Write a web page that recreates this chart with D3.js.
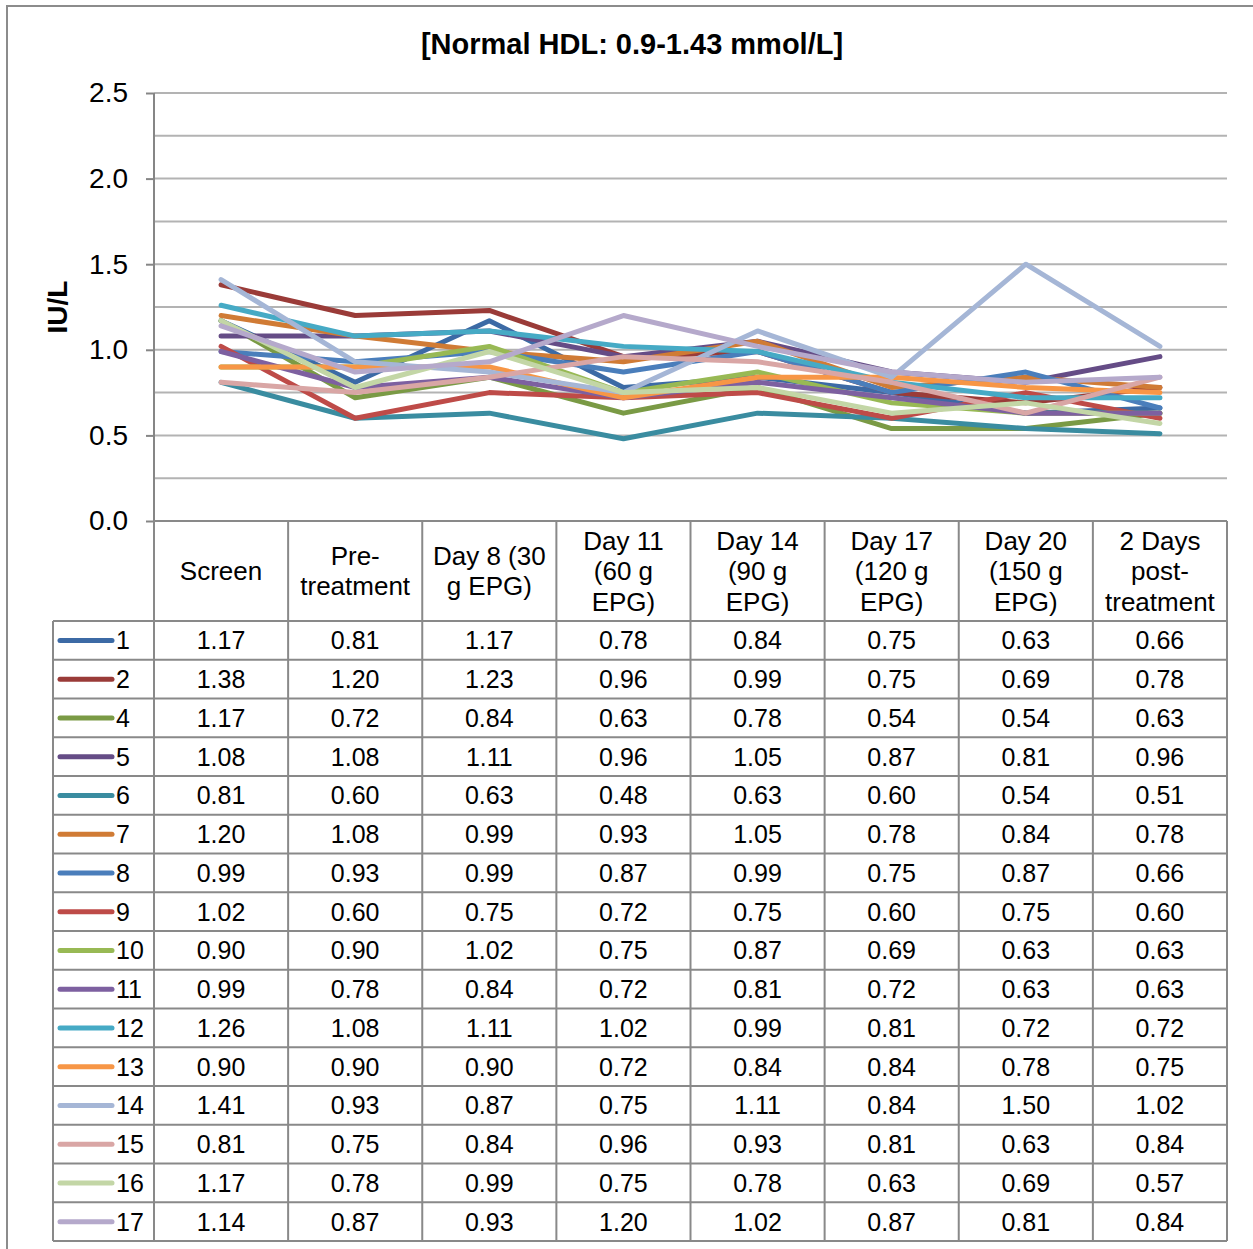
<!DOCTYPE html>
<html><head><meta charset="utf-8">
<script src="https://cdn.jsdelivr.net/npm/d3@7"></script>
<style>html,body{margin:0;padding:0;background:#fff;}svg{display:block;font-family:"Liberation Sans",Arial,sans-serif;}</style>
</head><body>
<svg id="c" width="1253" height="1249"></svg>
<script>
const title = "[Normal HDL: 0.9-1.43 mmol/L]";
const yTitle = "IU/L";
const categories = [["Screen"],["Pre-","treatment"],["Day 8 (30","g EPG)"],["Day 11","(60 g","EPG)"],["Day 14","(90 g","EPG)"],["Day 17","(120 g","EPG)"],["Day 20","(150 g","EPG)"],["2 Days","post-","treatment"]];
const yTicks = [0, 0.5, 1.0, 1.5, 2.0, 2.5];
const seriesNames = ["1","2","4","5","6","7","8","9","10","11","12","13","14","15","16","17"];
const s1  = [1.17,0.81,1.17,0.78,0.84,0.75,0.63,0.66];
const s2  = [1.38,1.20,1.23,0.96,0.99,0.75,0.69,0.78];
const s4  = [1.17,0.72,0.84,0.63,0.78,0.54,0.54,0.63];
const s5  = [1.08,1.08,1.11,0.96,1.05,0.87,0.81,0.96];
const s6  = [0.81,0.60,0.63,0.48,0.63,0.60,0.54,0.51];
const s7  = [1.20,1.08,0.99,0.93,1.05,0.78,0.84,0.78];
const s8  = [0.99,0.93,0.99,0.87,0.99,0.75,0.87,0.66];
const s9  = [1.02,0.60,0.75,0.72,0.75,0.60,0.75,0.60];
const s10 = [0.90,0.90,1.02,0.75,0.87,0.69,0.63,0.63];
const s11 = [0.99,0.78,0.84,0.72,0.81,0.72,0.63,0.63];
const s12 = [1.26,1.08,1.11,1.02,0.99,0.81,0.72,0.72];
const s13 = [0.90,0.90,0.90,0.72,0.84,0.84,0.78,0.75];
const s14 = [1.41,0.93,0.87,0.75,1.11,0.84,1.50,1.02];
const s15 = [0.81,0.75,0.84,0.96,0.93,0.81,0.63,0.84];
const s16 = [1.17,0.78,0.99,0.75,0.78,0.63,0.69,0.57];
const s17 = [1.14,0.87,0.93,1.20,1.02,0.87,0.81,0.84];
const seriesValues = [s1,s2,s4,s5,s6,s7,s8,s9,s10,s11,s12,s13,s14,s15,s16,s17];
const colors = ["#3C6AA5","#9A3B38","#7A9A45","#654C86","#3A8CA0","#D07B35","#4A7EBB","#BE4B48","#98B954","#7D60A0","#46AAC5","#F79646","#A5B6D6","#D9A6A5","#C3D6A6","#B5A9CB"];

const svg = d3.select("#c");
const L = 154, R = 1227, T = 93, B = 521;
const headerB = 621, tableB = 1241, legendL = 53;
const gridColor = "#b3b3b3", lineColor = "#898989";

// outer border
svg.append("rect").attr("x",7).attr("y",6).attr("width",1260).attr("height",1260)
  .attr("fill","none").attr("stroke","#8c8c8c").attr("stroke-width",2);

const x = d3.scaleBand().domain(d3.range(categories.length)).range([L,R]);
const y = d3.scaleLinear().domain([0,2.5]).range([B,T]);

// gridlines (major 0.5, minor 0.25)
const gridVals = d3.range(0.25, 2.5001, 0.25);
svg.append("g").selectAll("line").data(gridVals).join("line")
  .attr("x1",L).attr("x2",R).attr("y1",d=>y(d)).attr("y2",d=>y(d))
  .attr("stroke",gridColor).attr("stroke-width",2);

// y axis
const yAxis = d3.axisLeft(y).tickValues(yTicks).tickFormat(d3.format(".1f")).tickSize(8).tickPadding(18);
const ga = svg.append("g").attr("transform",`translate(${L},0)`).call(yAxis);
ga.select(".domain").remove();
ga.selectAll(".tick line").attr("stroke","#868686").attr("stroke-width",2);
ga.selectAll(".tick text").attr("font-size",28).attr("fill","#000").attr("font-family","Liberation Sans, Arial, sans-serif");
svg.append("line").attr("x1",L).attr("x2",L).attr("y1",T).attr("y2",B).attr("stroke","#868686").attr("stroke-width",2);

// title
svg.append("text").attr("x",632).attr("y",54).attr("text-anchor","middle")
  .attr("font-size",29).attr("font-weight","bold").text(title);
svg.append("text").attr("transform","translate(67,307) rotate(-90)").attr("text-anchor","middle")
  .attr("font-size",28).attr("font-weight","bold").text(yTitle);

// lines
const line = d3.line().x((d,i)=>x(i)+x.bandwidth()/2).y(d=>y(d));
svg.append("g").selectAll("path").data(seriesValues).join("path")
  .attr("d",line).attr("fill","none").attr("stroke",(d,i)=>colors[i])
  .attr("stroke-width",5).attr("stroke-linejoin","round").attr("stroke-linecap","round");

// table grid
const tg = svg.append("g").attr("stroke",lineColor).attr("stroke-width",2);
const rowH = (tableB-headerB)/seriesNames.length;
const colEdges = d3.range(categories.length+1).map(i=> i<categories.length ? x(i) : R);
colEdges.forEach(cx=>{
  tg.append("line").attr("x1",cx).attr("x2",cx).attr("y1",B).attr("y2",tableB);
});
tg.append("line").attr("x1",legendL).attr("x2",legendL).attr("y1",headerB).attr("y2",tableB);
tg.append("line").attr("x1",L).attr("x2",R).attr("y1",B).attr("y2",B);
d3.range(seriesNames.length+1).forEach(i=>{
  const yy = headerB + i*rowH;
  tg.append("line").attr("x1",legendL).attr("x2",R).attr("y1",yy).attr("y2",yy);
});

// header text
const hg = svg.append("g").attr("font-size",26).attr("text-anchor","middle").attr("fill","#000");
categories.forEach((lines,i)=>{
  const cx = x(i)+x.bandwidth()/2;
  const lh = 30.5;
  const mid = (B+headerB)/2;
  const t = hg.append("text").attr("x",cx);
  lines.forEach((ln,j)=>{
    t.append("tspan").attr("x",cx).attr("y", mid - (lines.length-1)*lh/2 + j*lh + 9).text(ln);
  });
});

// table values and legend
const vg = svg.append("g").attr("font-size",25).attr("fill","#000");
seriesNames.forEach((name,r)=>{
  const cy = headerB + r*rowH + rowH/2;
  vg.append("line").attr("x1",60).attr("x2",112).attr("y1",cy).attr("y2",cy)
    .attr("stroke",colors[r]).attr("stroke-width",5).attr("stroke-linecap","round");
  vg.append("text").attr("x",116).attr("y",cy+9).text(name);
  seriesValues[r].forEach((v,c)=>{
    vg.append("text").attr("x",x(c)+x.bandwidth()/2).attr("y",cy+9).attr("text-anchor","middle").text(d3.format(".2f")(v));
  });
});
</script>
</body></html>
